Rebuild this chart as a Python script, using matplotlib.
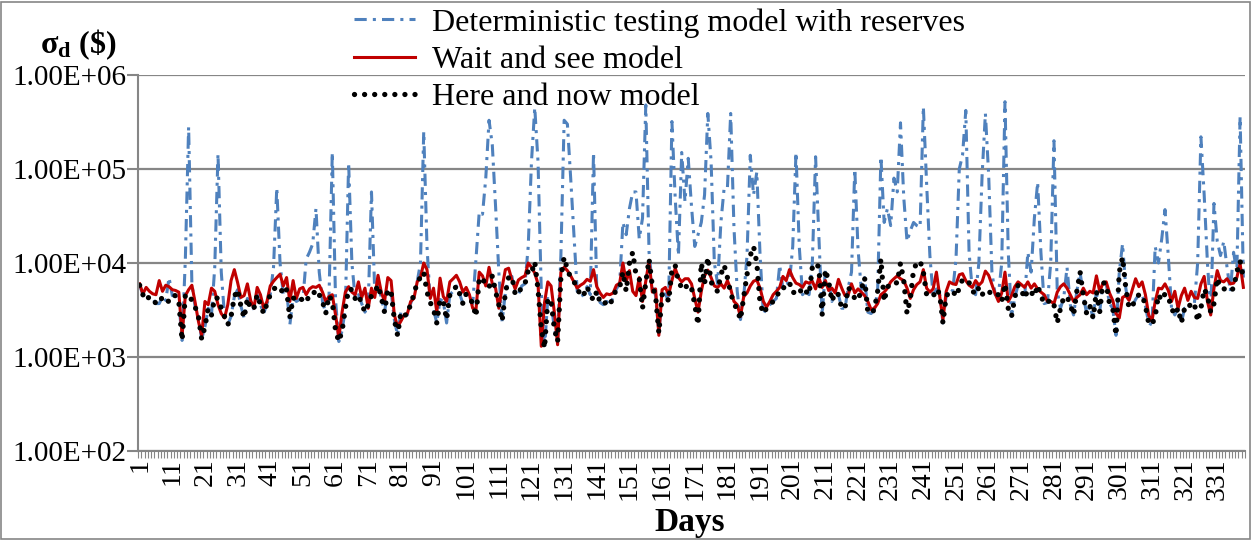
import numpy as np
import matplotlib
matplotlib.use('Agg')
import matplotlib.pyplot as plt
from matplotlib.patches import Rectangle
from matplotlib.ticker import FixedLocator, FuncFormatter, NullLocator

plt.rcParams['font.family'] = ['Liberation Serif', 'DejaVu Serif']
plt.rcParams['mathtext.fontset'] = 'custom'
plt.rcParams['mathtext.rm'] = 'Liberation Serif'
plt.rcParams['mathtext.bf'] = 'Liberation Serif:bold'
plt.rcParams['mathtext.it'] = 'Liberation Serif:italic'

# -----------------------------------------------------------------
# Data (daily sigma_d in $, days 1..339)
series_names = ['Deterministic testing model with reserves',
                'Wait and see model',
                'Here and now model']

deterministic = [
    5800, 4600, 4000, 4400, 4200, 3700, 3700, 4400, 4000, 7000,
    4500, 4500, 3900, 1500, 11000, 280000, 6000, 3400, 2700, 1550,
    2100, 3300, 2800, 9000, 145000, 8000, 2700, 2200, 2700, 4400,
    5200, 3500, 2600, 4200, 3200, 3300, 4600, 3600, 2900, 3700,
    4600, 9000, 63000, 10000, 4600, 5200, 2200, 4300, 3900, 4100,
    4100, 11000, 13000, 16000, 38000, 8000, 3900, 2900, 4500, 150000,
    4000, 1460, 1900, 3300, 116000, 10000, 4200, 4600, 3700, 3000,
    3600, 57000, 4900, 5800, 4300, 3000, 5200, 5000, 2500, 1700,
    3000, 2800, 2800, 3700, 4600, 6300, 10000, 250000, 15000, 3800,
    3200, 2300, 4100, 3900, 2300, 4600, 5000, 5700, 4700, 3700,
    4700, 4300, 3700, 11000, 35000, 33000, 80000, 330000, 180000, 40000,
    8000, 2400, 4800, 7000, 7200, 4700, 4600, 5700, 6000, 15000,
    120000, 450000, 120000, 5000, 1240, 4200, 3900, 2000, 1450, 12000,
    330000, 300000, 80000, 20000, 5000, 4400, 4600, 5600, 4600, 150000,
    5000, 3800, 3600, 3900, 3600, 4300, 5300, 6000, 27000, 20000,
    38000, 57000, 57000, 18000, 30000, 480000, 13000, 5700, 4500, 1800,
    4600, 4700, 3900, 320000, 50000, 12000, 150000, 45000, 130000, 40000,
    15000, 20000, 27000, 53000, 390000, 120000, 10000, 6000, 27000, 63000,
    63000, 390000, 24000, 5000, 2500, 4400, 12000, 140000, 53000, 93000,
    12000, 2900, 3300, 3600, 3900, 4200, 9500, 5300, 6000, 6200,
    15000, 150000, 15000, 4600, 5000, 4600, 10000, 135000, 20000, 2800,
    8500, 6400, 3900, 4900, 4600, 3300, 3300, 5500, 8000, 100000,
    14000, 5200, 7000, 3000, 2900, 3200, 5000, 135000, 27000, 38000,
    25000, 80000, 57000, 310000, 50000, 17000, 22000, 27000, 25000, 24000,
    460000, 70000, 12000, 4400, 5300, 4700, 2300, 4500, 4800, 5100,
    11000, 100000, 140000, 420000, 13000, 5100, 4600, 10000, 87000, 390000,
    87000, 8000, 4600, 4600, 10000, 520000, 13000, 2700, 4300, 5800,
    5200, 4200, 13000, 8000, 30000, 72000, 13000, 3700, 3800, 10000,
    200000, 5000, 3300, 4300, 9000, 3600, 2800, 5000, 8000, 4500,
    2900, 3500, 2600, 5000, 3000, 6200, 6000, 3700, 3300, 1700,
    8000, 16000, 5400, 3300, 3500, 4100, 4600, 4600, 3500, 2300,
    2200, 15000, 10000, 18000, 37000, 12000, 3300, 2800, 3300, 2300,
    3300, 3200, 3800, 3700, 10000, 220000, 53000, 10000, 3000, 43000,
    17000, 12000, 17000, 9000, 5000, 13000, 8000, 360000, 7000]

wait_see = [
    6000, 4700, 5500, 5000, 4700, 4600, 6500, 5000, 5800, 5600,
    5200, 5100, 4900, 1700, 4500, 5200, 5800, 3800, 2400, 1700,
    3900, 3600, 5400, 5000, 3600, 2900, 2600, 3600, 6500, 8500,
    6200, 4300, 4500, 6000, 4000, 3300, 5500, 4600, 3300, 3900,
    5700, 6400, 7000, 7600, 5700, 7000, 3900, 6500, 4200, 5300,
    5500, 4600, 5300, 5600, 5500, 5800, 4900, 3900, 4400, 4600,
    2800, 1600, 3000, 4900, 5600, 4900, 4600, 6300, 4300, 5400,
    3300, 5400, 4300, 7400, 4900, 3900, 7000, 6500, 2800, 2100,
    2400, 2800, 2900, 3900, 4200, 6300, 7000, 10000, 8500, 4200,
    5400, 3000, 6900, 4400, 3900, 6300, 6800, 7400, 6300, 4900,
    5500, 4600, 3300, 3200, 8000, 7300, 5700, 9000, 6000, 5400,
    3300, 5500, 8500, 8800, 6600, 5300, 6600, 7000, 7300, 10000,
    9000, 7800, 6000, 1300, 3800, 6300, 5700, 3000, 1350, 8000,
    9000, 8300, 7300, 6300, 5400, 5800, 6100, 6700, 6400, 8500,
    5600, 4800, 4300, 4700, 4600, 4800, 5800, 6100, 10000, 6300,
    8300, 5000, 4500, 7000, 3900, 6400, 10500, 4900, 5300, 1700,
    5200, 5500, 4600, 6500, 8800, 7000, 6300, 6800, 6800, 6000,
    4200, 3000, 5000, 7300, 8400, 7000, 5700, 5500, 6000, 5400,
    6500, 5300, 3900, 3600, 2700, 4400, 4800, 5700, 6400, 6600,
    5400, 3900, 3400, 3900, 4600, 5000, 5500, 7200, 6500, 8500,
    7000, 6100, 5900, 5500, 6300, 6100, 6400, 5300, 7000, 5500,
    6500, 5100, 5400, 4800, 6700, 5400, 4500, 4600, 6000, 4800,
    5300, 4900, 4500, 3900, 3200, 3300, 3700, 4600, 4900, 5400,
    6300, 6800, 7300, 6800, 6500, 5400, 4200, 5200, 5900, 6300,
    8500, 5400, 4900, 5300, 8000, 4500, 2500, 5000, 6300, 6000,
    5900, 7500, 7700, 6500, 5800, 5500, 6500, 5800, 6300, 8200,
    7400, 5900, 4700, 3900, 4800, 8000, 3900, 4500, 5600, 6300,
    5900, 5500, 6300, 5400, 6000, 5300, 4900, 4600, 3900, 3900,
    3700, 4900, 5600, 6000, 5400, 4600, 3900, 4300, 4600, 5400,
    4600, 5000, 4800, 7300, 5000, 6100, 6300, 4800, 4000, 2900,
    2600, 4300, 4500, 4000, 5200, 6800, 5600, 6300, 4600, 2800,
    2400, 3900, 5400, 5300, 6000, 5100, 3900, 5000, 3300, 4500,
    5400, 4000, 5000, 4300, 4200, 6000, 7200, 3900, 2800, 5400,
    8300, 6500, 6300, 6800, 6000, 6100, 7000, 9800, 5500]

here_now = [
    5800, 4600, 4000, 4400, 4200, 3700, 3700, 4400, 4000, 3900,
    4500, 4500, 3900, 1500, 4600, 4600, 4000, 3400, 2700, 1550,
    2100, 3300, 2800, 4300, 4200, 3300, 2700, 2200, 2700, 4400,
    5200, 3500, 2600, 4200, 3200, 3300, 4600, 3600, 2900, 3700,
    4600, 5300, 5500, 5600, 4600, 5200, 2600, 4300, 3900, 4100,
    4100, 3800, 4600, 4600, 5200, 4600, 3900, 2900, 4500, 3900,
    1900, 1460, 1900, 3300, 5300, 5200, 4200, 4600, 3700, 3000,
    3600, 4500, 4900, 5800, 4300, 3000, 5200, 5000, 2500, 1700,
    3000, 2800, 2800, 3700, 4600, 6300, 7000, 8000, 4900, 3800,
    3200, 2300, 4100, 3900, 2500, 4600, 5000, 5700, 4700, 3700,
    4700, 4300, 3700, 2700, 6900, 6900, 5800, 5500, 7300, 5000,
    3600, 2400, 4800, 7000, 7200, 4700, 4600, 5700, 6000, 8300,
    7800, 10300, 5200, 2000, 1240, 4200, 3900, 2000, 1450, 7000,
    11500, 8500, 7000, 6300, 5600, 4400, 4600, 5600, 4600, 4000,
    5000, 3800, 3600, 3900, 3600, 4300, 5300, 5500, 8000, 5000,
    10000, 13000, 7500, 6900, 3300, 6200, 11000, 5700, 4500, 1800,
    4600, 4700, 3900, 8500, 9500, 6300, 5500, 6000, 5100, 5400,
    3600, 2200, 10000, 6000, 11500, 6300, 5300, 5000, 7500, 9500,
    7000, 4800, 3700, 3200, 2500, 4400, 7500, 12000, 15000, 10000,
    3700, 2900, 3300, 3600, 3900, 4200, 5300, 5300, 6000, 6200,
    4800, 5000, 5400, 4600, 5000, 4600, 9000, 10000, 9000, 2800,
    8500, 6400, 3900, 4900, 4600, 3300, 3300, 5500, 4900, 4200,
    4000, 5200, 7000, 3000, 2900, 3200, 5000, 11000, 3900, 5600,
    5800, 6300, 6100, 10000, 6500, 2900, 4100, 8500, 10000, 10500,
    8000, 4600, 4400, 4400, 5300, 4700, 2300, 4500, 4800, 5100,
    4400, 5400, 6700, 6700, 6200, 5100, 4600, 5500, 4600, 5100,
    5100, 4500, 4600, 4600, 3900, 6000, 3300, 2700, 4300, 5800,
    5200, 4200, 5200, 4900, 4400, 5800, 4500, 3700, 3800, 4100,
    3600, 2300, 3300, 4300, 4400, 3600, 2800, 5000, 8000, 4500,
    2900, 3500, 2600, 5000, 3000, 6200, 6000, 3700, 3300, 1700,
    8000, 11500, 5400, 3300, 3500, 4100, 4600, 4600, 3500, 2300,
    2200, 2700, 4600, 4000, 4700, 4400, 3300, 2800, 3300, 2300,
    3300, 3200, 3800, 3700, 2400, 3300, 5300, 4500, 3000, 3700,
    6900, 5400, 5300, 5300, 5000, 5400, 8000, 10500, 7000]

day_labels = list(range(1, 332, 10))
y_ticks = [1e2, 1e3, 1e4, 1e5, 1e6]


def _sigma_chart():
    vDays = np.arange(1, len(wait_see) + 1)
    nDays = len(vDays)
    grey = '#868686'

    hFig = plt.figure(figsize=(12.53, 5.40), dpi=100)
    hAx = hFig.add_axes([138 / 1253, 1 - 451 / 540, (1245 - 138) / 1253, (451 - 75) / 540])

    # Series
    hDet, = hAx.plot(vDays, deterministic, color='#4F81BD', lw=2.2,
                     ls=(0, (4, 2, 1, 2)))
    hWait, = hAx.plot(vDays, wait_see, color='#C00000', lw=2.2)
    hHere, = hAx.plot(vDays, here_now, color='black', lw=3.8,
                      ls=(0, (0.01, 1.9)), dash_capstyle='round')

    # Y axis (log, Excel-like labels)
    hAx.set_yscale('log')
    hAx.set_ylim(1e2, 1e6)
    hAx.yaxis.set_major_locator(FixedLocator(y_ticks))
    hAx.yaxis.set_minor_locator(NullLocator())
    hAx.yaxis.set_major_formatter(
        FuncFormatter(lambda v, p: '1.00E+%02d' % int(round(np.log10(v)))))
    hAx.tick_params(axis='y', length=8, width=1.5, color=grey,
                    labelsize=21, pad=0.5)
    hAx.grid(axis='y', color=grey, lw=1.6)
    hAx.set_axisbelow(True)

    # X axis (category style)
    hAx.set_xlim(0.5, nDays + 0.5)
    hAx.set_xticks(day_labels)
    hAx.set_xticklabels([str(d) for d in day_labels], rotation=90)
    hAx.set_xticks(np.arange(0.5, nDays + 1), minor=True)
    hAx.tick_params(axis='x', which='major', length=0, pad=5, labelsize=20)
    hAx.tick_params(axis='x', which='minor', length=5, width=0.8, color=grey)

    for side in ['top', 'right']:
        hAx.spines[side].set_visible(False)
    for side in ['left', 'bottom']:
        hAx.spines[side].set_color(grey)
        hAx.spines[side].set_linewidth(1.5)

    # Legend, title, axis label
    hFig.legend([hDet, hWait, hHere], series_names, loc='upper left',
                bbox_to_anchor=(354 / 1253, 1 - 8 / 540), frameon=False,
                fontsize=23, handlelength=1.9, handletextpad=0.55,
                labelspacing=0.25, borderpad=0, borderaxespad=0)
    hFig.text(78 / 1253, 1 - 45 / 540, r'$\mathbf{\sigma_d}$ (\$)',
              ha='center', va='center', fontsize=23, fontweight='bold')
    hFig.text(690 / 1253, 1 - 522 / 540, 'Days', ha='center', va='center',
              fontsize=24, fontweight='bold')

    # Chart area border
    hFig.patches.append(Rectangle((0.001, 0.002), 0.997, 0.995,
                                  transform=hFig.transFigure, fill=False,
                                  ec=grey, lw=1.2))

    hFig.savefig('out.png', dpi=100)


if __name__ == '__main__':
    _sigma_chart()
